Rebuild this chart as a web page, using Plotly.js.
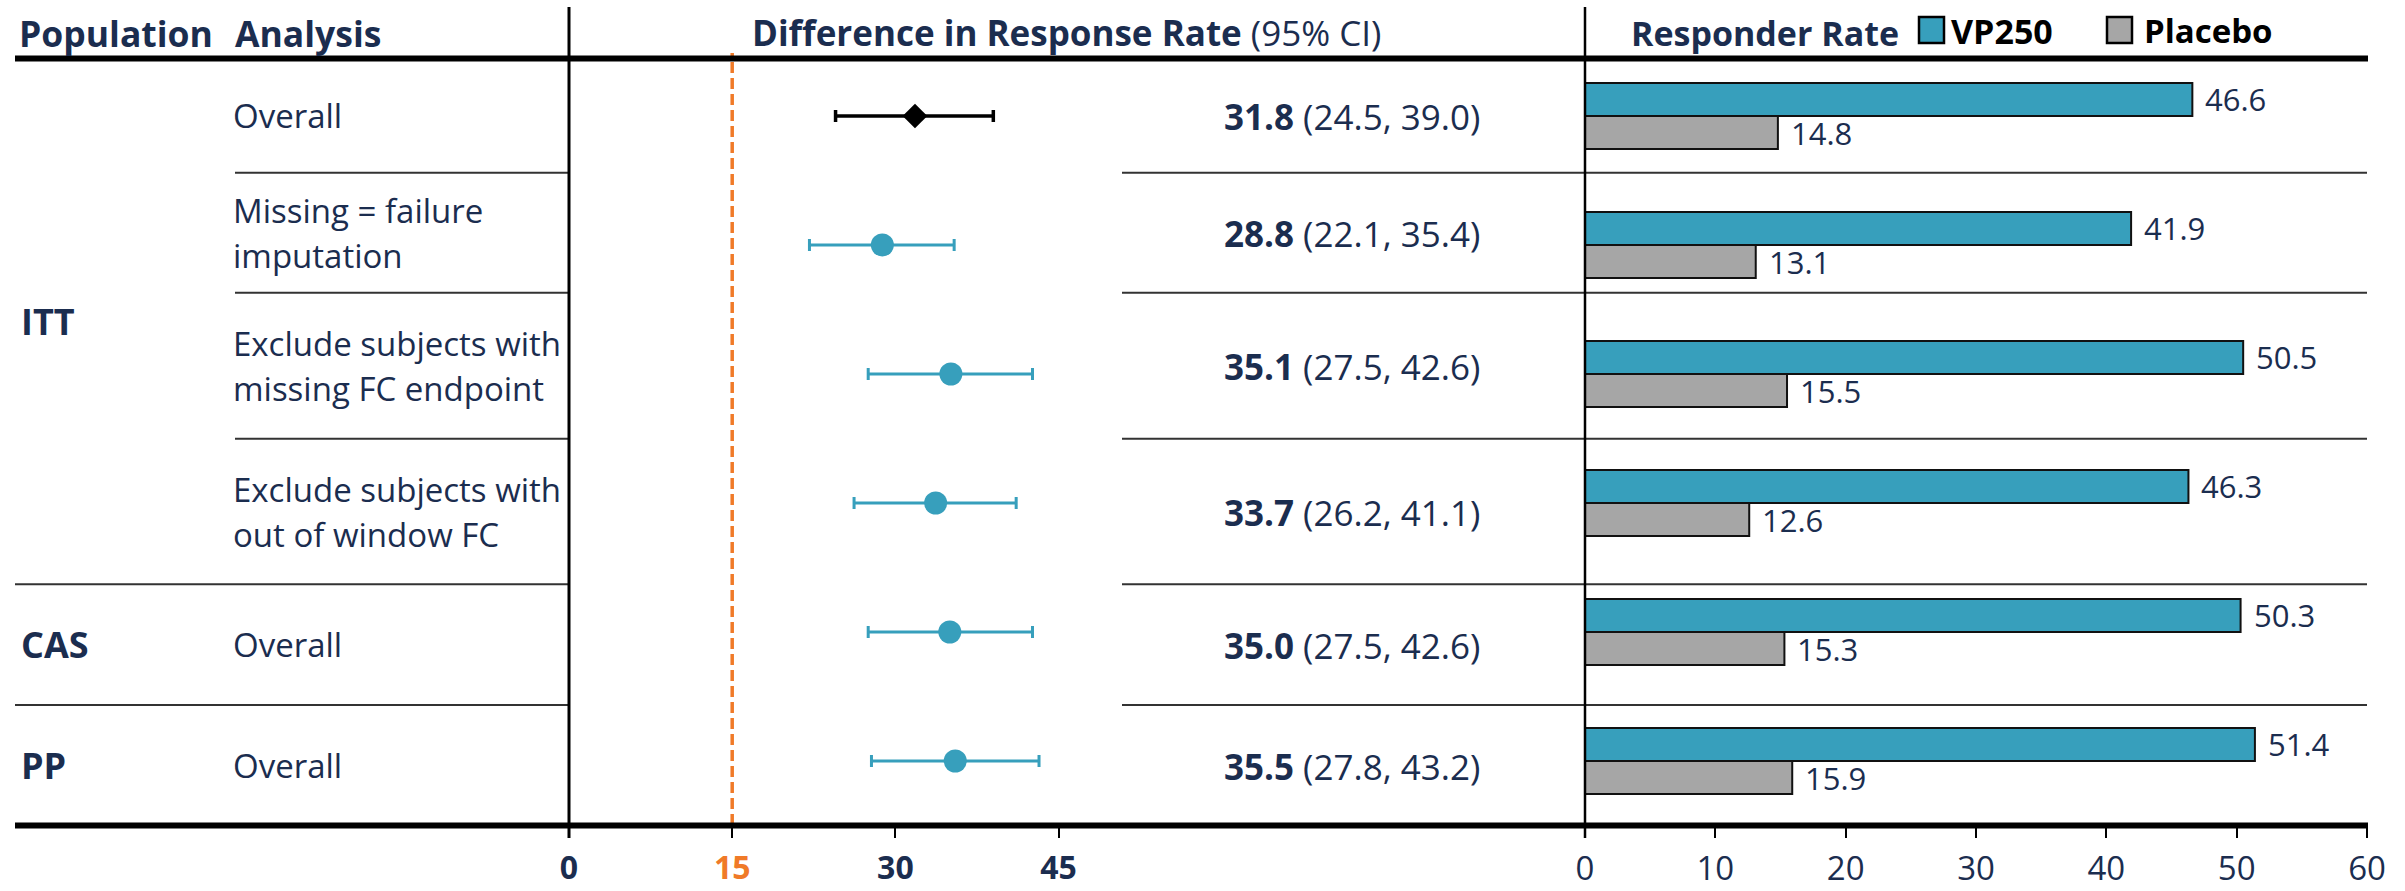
<!DOCTYPE html>
<html>
<head>
<meta charset="utf-8">
<script src="https://cdn.plot.ly/plotly-3.0.1.min.js"></script>
<style>
  html, body { margin: 0; padding: 0; background: #fff; }
  #chart { width: 2405px; height: 891px; }
</style>
</head>
<body>
<div id="chart"></div>
<script>
// ---------------- data ----------------
const populations = ['ITT', 'CAS', 'PP'];
const analysisLabels = [
  ['Overall'],
  ['Missing = failure', 'imputation'],
  ['Exclude subjects with', 'missing FC endpoint'],
  ['Exclude subjects with', 'out of window FC'],
  ['Overall'],
  ['Overall']
];
const rowIndex = [0, 1, 2, 3, 4, 5];
const diffEst = [31.8, 28.8, 35.1, 33.7, 35.0, 35.5];
const diffLow = [24.5, 22.1, 27.5, 26.2, 27.5, 27.8];
const diffHigh = [39.0, 35.4, 42.6, 41.1, 42.6, 43.2];
const vp250Rate = [46.6, 41.9, 50.5, 46.3, 50.3, 51.4];
const placeboRate = [14.8, 13.1, 15.5, 12.6, 15.3, 15.9];
const diffTicks = [0, 15, 30, 45];
const marginLine = 15;
const rateTicks = [0, 10, 20, 30, 40, 50, 60];
const seriesNames = ['VP250', 'Placebo'];

// ---------------- style ----------------
const W = 2405, H = 891;
const X = p => p / W;
const Y = p => 1 - p / H;
const NAVY = '#1B2D4F';
const TEAL = '#379FBC';
const GRAY = '#A6A6A6';
const ORANGE = '#F07A28';
const FONT = '"Open Sans", "Noto Sans", sans-serif';

const cellBounds = [58, 172.7, 292.7, 438.7, 584.3, 705, 825];
const cellCenter = i => (cellBounds[i] + cellBounds[i + 1]) / 2;
const popCenters = [(58 + 584.3) / 2, cellCenter(4), cellCenter(5)];

// ---------------- traces ----------------
const traces = [];
traces.push({
  type: 'bar', orientation: 'h', name: seriesNames[0],
  x: vp250Rate, y: rowIndex, xaxis: 'x2', yaxis: 'y',
  width: 0.256, offset: -0.256,
  marker: { color: TEAL, line: { color: '#111', width: 2 } },
  hoverinfo: 'skip'
});
traces.push({
  type: 'bar', orientation: 'h', name: seriesNames[1],
  x: placeboRate, y: rowIndex, xaxis: 'x2', yaxis: 'y',
  width: 0.256, offset: 0,
  marker: { color: GRAY, line: { color: '#111', width: 2 } },
  hoverinfo: 'skip'
});
// overall ITT (diamond)
traces.push({
  type: 'scatter', mode: 'markers',
  x: [diffEst[0]], y: [rowIndex[0]], xaxis: 'x', yaxis: 'y',
  marker: { symbol: 'diamond', size: 19, color: '#000' },
  error_x: { type: 'data', symmetric: false,
    array: [diffHigh[0] - diffEst[0]], arrayminus: [diffEst[0] - diffLow[0]],
    color: '#000', thickness: 3.5, width: 6 },
  hoverinfo: 'skip', cliponaxis: false
});
traces.push({
  type: 'scatter', mode: 'markers',
  x: diffEst.slice(1), y: rowIndex.slice(1), xaxis: 'x', yaxis: 'y',
  marker: { symbol: 'circle', size: 23, color: TEAL },
  error_x: { type: 'data', symmetric: false,
    array: diffHigh.slice(1).map((h, i) => h - diffEst[i + 1]),
    arrayminus: diffLow.slice(1).map((l, i) => diffEst[i + 1] - l),
    color: TEAL, thickness: 3, width: 6 },
  hoverinfo: 'skip', cliponaxis: false
});

// ---------------- annotations ----------------
const ann = [];
const txt = (text, xpx, ypx, opts) => Object.assign({
  text, x: X(xpx), y: Y(ypx), xref: 'paper', yref: 'paper',
  xanchor: 'left', yanchor: 'middle', showarrow: false,
  font: { family: FONT, size: 32, color: NAVY }, borderpad: 0, borderwidth: 0
}, opts || {});

// headers
ann.push(txt('<b>Population</b>', 19, 33, { font: { family: FONT, size: 35.5, color: NAVY } }));
ann.push(txt('<b>Analysis</b>', 235, 33, { font: { family: FONT, size: 35.5, color: NAVY } }));
ann.push(txt('<b>Difference in Response Rate</b> (95% CI)', 752, 33, { font: { family: FONT, size: 35, color: NAVY } }));
ann.push(txt('<b>Responder Rate</b>', 1631, 33, { font: { family: FONT, size: 34, color: NAVY } }));
ann.push(txt('<b>' + seriesNames[0] + '</b>', 1951, 31, { font: { family: FONT, size: 34, color: '#000' } }));
ann.push(txt('<b>' + seriesNames[1] + '</b>', 2144, 31, { font: { family: FONT, size: 33, color: '#000' } }));

// population labels
populations.forEach((p, i) => {
  ann.push(txt('<b>' + p + '</b>', 21, popCenters[i], { font: { family: FONT, size: 36, color: NAVY } }));
});

// analysis labels
analysisLabels.forEach((lines, i) => {
  const c = cellCenter(i);
  const n = lines.length;
  lines.forEach((ln, j) => {
    const yy = c + (j - (n - 1) / 2) * 45;
    ann.push(txt(ln, 233, yy, { font: { family: FONT, size: 33, color: NAVY } }));
  });
});

// CI text
diffEst.forEach((e, i) => {
  ann.push(txt('<b>' + e.toFixed(1) + '</b> (' + diffLow[i].toFixed(1) + ', ' + diffHigh[i].toFixed(1) + ')',
    1352, cellCenter(i) + 1, { xanchor: 'center', font: { family: FONT, size: 35, color: NAVY } }));
});

// bar value labels
vp250Rate.forEach((v, i) => {
  ann.push({ text: v.toFixed(1), x: v, y: rowIndex[i] - 0.128, xref: 'x2', yref: 'y',
    xanchor: 'left', yanchor: 'middle', xshift: 13, showarrow: false, borderpad: 0, borderwidth: 0,
    font: { family: FONT, size: 31, color: NAVY } });
});
placeboRate.forEach((v, i) => {
  ann.push({ text: v.toFixed(1), x: v, y: rowIndex[i] + 0.128, xref: 'x2', yref: 'y',
    xanchor: 'left', yanchor: 'middle', xshift: 13, showarrow: false, borderpad: 0, borderwidth: 0,
    font: { family: FONT, size: 31, color: NAVY } });
});

// ---------------- shapes ----------------
const shapes = [];
const hline = (x0, x1, ypx, w, col) => ({ type: 'line', xref: 'paper', yref: 'paper',
  x0: X(x0), x1: X(x1), y0: Y(ypx), y1: Y(ypx), line: { color: col, width: w } });
const vline = (xpx, y0, y1, w, col) => ({ type: 'line', xref: 'paper', yref: 'paper',
  x0: X(xpx), x1: X(xpx), y0: Y(y0), y1: Y(y1), line: { color: col, width: w } });

shapes.push(hline(15, 2368, 58.5, 6, '#000'));
shapes.push(hline(15, 2368, 825.5, 6, '#000'));
[172.7, 292.7, 438.7].forEach(yp => {
  shapes.push(hline(235, 569, yp, 2, '#333'));
  shapes.push(hline(1122, 2367, yp, 2, '#333'));
});
[584.3, 705].forEach(yp => {
  shapes.push(hline(15, 569, yp, 2, '#333'));
  shapes.push(hline(1122, 2367, yp, 2, '#333'));
});
shapes.push(vline(569, 7, 838, 3, '#000'));
shapes.push(vline(1585, 7, 838, 2.5, '#000'));
// reference margin line (x = 15 on the difference axis)
shapes.push({ type: 'line', xref: 'x', yref: 'paper', x0: marginLine, x1: marginLine,
  y0: Y(825), y1: Y(53), line: { color: ORANGE, width: 3.5, dash: '11px,5px' }, layer: 'below' });
// legend boxes
shapes.push({ type: 'rect', xref: 'paper', yref: 'paper', x0: X(1919), x1: X(1944), y0: Y(43), y1: Y(17),
  fillcolor: TEAL, line: { color: '#000', width: 2.5 } });
shapes.push({ type: 'rect', xref: 'paper', yref: 'paper', x0: X(2107), x1: X(2132), y0: Y(43), y1: Y(17),
  fillcolor: GRAY, line: { color: '#000', width: 2.5 } });

// ---------------- layout ----------------
const layout = {
  width: W, height: H, autosize: false,
  margin: { l: 0, r: 0, t: 0, b: 0, pad: 0 },
  paper_bgcolor: '#fff', plot_bgcolor: 'rgba(0,0,0,0)',
  showlegend: false, barmode: 'overlay',
  font: { family: FONT, color: NAVY },
  xaxis: {
    domain: [X(569), X(1113)], range: [0, 50], anchor: 'y',
    tickmode: 'array', tickvals: diffTicks,
    ticktext: diffTicks.map(t => t === marginLine ? '<span style="color:' + ORANGE + '">' + t + '</span>' : String(t)),
    ticks: 'outside', ticklen: 12, tickwidth: 2, tickcolor: '#000', ticklabelstandoff: 3,
    showgrid: false, zeroline: false, showline: false, fixedrange: true,
    tickfont: { family: FONT, size: 32, color: NAVY, weight: 'bold' }
  },
  xaxis2: {
    domain: [X(1585), X(2367)], range: [0, 60], anchor: 'y',
    tickmode: 'array', tickvals: rateTicks,
    ticks: 'outside', ticklen: 12, tickwidth: 2, tickcolor: '#000', ticklabelstandoff: 2,
    showgrid: false, zeroline: false, showline: false, fixedrange: true,
    tickfont: { family: FONT, size: 33, color: NAVY }
  },
  yaxis: {
    domain: [Y(825), Y(58)], range: [709 / 129, -58 / 129],
    visible: false, fixedrange: true
  },
  annotations: ann,
  shapes: shapes
};

Plotly.newPlot('chart', traces, layout, { displayModeBar: false, staticPlot: true });
</script>
</body>
</html>
